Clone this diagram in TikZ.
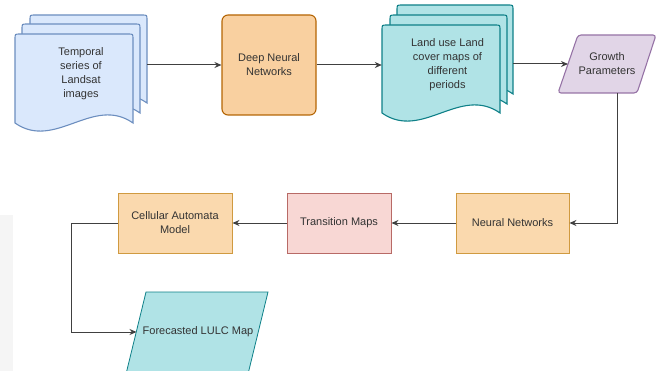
\documentclass[tikz,border=0pt]{standalone}
\usepackage{fontspec}
\setmainfont{Liberation Sans}
\usetikzlibrary{arrows.meta}
\definecolor{bluefill}{HTML}{DAE8FC}
\definecolor{bluedraw}{HTML}{6C8EBF}
\definecolor{orfill}{HTML}{F9D0A0}
\definecolor{ordraw}{HTML}{B46504}
\definecolor{ortwofill}{HTML}{FAD9AE}
\definecolor{ortwodraw}{HTML}{D09A40}
\definecolor{tealfill}{HTML}{B0E3E6}
\definecolor{tealdraw}{HTML}{0E8088}
\definecolor{lavfill}{HTML}{E1D5E7}
\definecolor{lavdraw}{HTML}{9673A6}
\definecolor{pinkfill}{HTML}{F8D7D4}
\definecolor{pinkdraw}{HTML}{B86A66}
\definecolor{txt}{HTML}{333333}
\definecolor{wire}{HTML}{404040}
\newcommand\docpage[6]{%
  \filldraw[fill=#5,draw=#6,line width=1.1pt]
    ({#1},{#4}) -- ({#1},{#2+5}) .. controls ({#1},{#2}) .. ({#1+5},{#2})
    -- ({#3-5},{#2}) .. controls ({#3},{#2}) .. ({#3},{#2+5})
    -- ({#3},{#4}) .. controls ({#3-40},{#4-28}) and ({#1+40},{#4+28}) .. ({#1},{#4}) -- cycle;}
\begin{document}
\begin{tikzpicture}[x=1pt,y=-1pt,
  every node/.style={font=\fontsize{11}{14}\selectfont, text=txt, align=center, inner sep=0pt},
  box/.style={draw, line width=0.9pt, minimum height=60pt},
  arr/.style={draw=wire, line width=1pt, -{Stealth[length=7pt,width=6pt]}}]
\useasboundingbox (0,0) rectangle (660,371);
\clip (0,0) rectangle (660,371);
% faint watermark at left edge
\fill[black!4] (0,215) rectangle (13,371);
% left multi-document
\docpage{30}{15}{147}{103}{bluefill}{bluedraw}
\docpage{22}{24}{140}{113}{bluefill}{bluedraw}
\docpage{15}{34}{133}{123}{bluefill}{bluedraw}
\node[minimum width=132pt, minimum height=60pt] (ld) at (81,74) {Temporal\\series of\\Landsat\\images};
% deep neural networks
\node[box, line width=1.1pt, draw=ordraw, fill=orfill, rounded corners=6pt, minimum width=94pt, minimum height=100pt] (dnn) at (269,65) {Deep Neural\\Networks};
% land use multi-document
\docpage{397}{5}{513}{94}{tealfill}{tealdraw}
\docpage{390}{15}{507}{104}{tealfill}{tealdraw}
\docpage{382}{25}{500}{113}{tealfill}{tealdraw}
\node[minimum width=131pt, minimum height=60pt] (lu) at (447.5,64.5) {Land use Land\\cover maps of\\different\\periods};
% growth parameters
\filldraw[fill=lavfill, draw=lavdraw, line width=1.1pt, rounded corners=3pt]
  (578,35) -- (656,35) -- (637,93) -- (558,93) -- cycle;
\node (gp) at (607,64) {Growth\\Parameters};
\coordinate (gpin) at (568,64);
\coordinate (gpout) at (617,93);
% bottom row
\node[box, draw=ortwodraw, fill=ortwofill, minimum width=113pt] (nn) at (512.5,223) {Neural Networks};
\node[box, draw=pinkdraw, fill=pinkfill, minimum width=104pt] (tm) at (339,223) {Transition Maps};
\node[box, draw=ortwodraw, fill=ortwofill, minimum width=114pt] (ca) at (175,223) {Cellular Automata\\Model};
% forecasted map
\filldraw[fill=tealfill, draw=tealdraw, line width=0.8pt]
  (146,292) -- (268,292) -- (248.5,372) -- (126.5,372) -- cycle;
\node (flc) at (198,332) {Forecasted LULC Map};
\coordinate (flcin) at (136.5,332);
% connectors
\draw[arr] (ld.east |- dnn.west) -- (dnn.west);
\draw[arr] (dnn.east) -- (lu.west |- dnn.east);
\draw[arr] (lu.east |- gpin) -- (gpin);
\draw[arr] (gpout) |- (nn.east);
\draw[arr] (nn.west) -- (tm.east);
\draw[arr] (tm.west) -- (ca.east);
\draw[arr] (ca.west) -- ++(-46,0) |- (flcin);
\end{tikzpicture}
\end{document}
